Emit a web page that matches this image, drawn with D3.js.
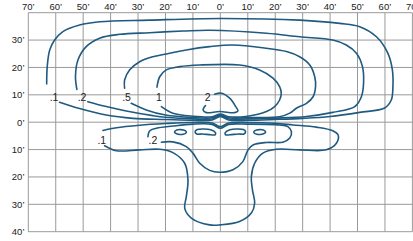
<!DOCTYPE html>
<html><head><meta charset="utf-8">
<script src="https://cdn.jsdelivr.net/npm/d3@7"></script>
<style>html,body{margin:0;padding:0;background:#fff;overflow:hidden}svg{display:block}</style>
</head><body>
<svg id="chart" width="413" height="241"></svg>
<script>
// ---- data (feet; x = lateral, y = forward(+)/back(-)) ----
const xTicks = [-70,-60,-50,-40,-30,-20,-10,0,10,20,30,40,50,60,70];
const yTicks = [30,20,10,0,-10,-20,-30,-40];
const xTickLabels = ["70’","60’","50’","40’","30’","20’","10’","0’","10’","20’","30’","40’","50’","60’","70’"];
const yTickLabels = ["30’","20’","10’","0’","10’","20’","30’","40’"];

const contourUpper01 = [[-63.3,14],[-63.1,20.3],[-62.2,26.4],[-60.4,30],[-57.4,33.1],[-51.3,35.5],[-44,36.7],[-25.8,37.3],[0,37.9],[29,37.3],[43.5,36.1],[50.8,34.9],[56.9,31.2],[61,25.3],[62.7,19.1],[62.9,13],[62.3,8.1],[59.9,5.2],[50.8,3.6],[40,2.1],[30,1.4],[20,1.0],[10,0.7],[3,0.8],[0,2.1],[-3,0.8],[-10,0.7],[-20,1.0],[-31.9,1.4],[-41.6,2.6],[-51.3,5.0],[-58.6,7.3]];
const contourUpper02 = [[-52.3,12.0],[-52.8,16.6],[-51.9,22.7],[-48.9,27.6],[-44,30.7],[-36.7,32.1],[-25.8,32.7],[-13.6,33.3],[-3.9,33.6],[16.8,32.5],[28.9,31.2],[41,30],[45.9,28.2],[49.6,25.2],[51.8,20.3],[52.2,14.2],[51.4,9.3],[49,5.7],[41,3.6],[31.4,2.1],[20,1.5],[10,1.2],[3,1.2],[0,2.4],[-3,1.2],[-10,1.2],[-20,1.8],[-24.6,2.4],[-34.3,4.1],[-41.6,5.7],[-48.3,7.5]];
const contourUpper05 = [[-34.9,12.4],[-34.9,15.4],[-33.1,19.1],[-29.4,22.1],[-24.6,23.9],[-18.5,25.2],[-12.4,26.4],[-3.9,27.6],[4.6,28.2],[16.8,27.0],[24.1,25.8],[28.9,23.9],[32.6,20.9],[34.4,16.6],[34.7,13.0],[33.8,9.3],[31.4,6.9],[27.7,5.1],[25.3,3.3],[21.6,2.0],[10,1.7],[3,1.6],[0,2.7],[-3,1.6],[-10,1.7],[-20,2.6],[-27,4.5],[-32.5,6.9]];
const contourUpper1 = [[-23.1,12.8],[-22.1,16.6],[-19.7,19.1],[-14.8,20.3],[-7.5,20.9],[7,20.9],[14.3,19.1],[19.2,16.1],[21.6,13],[22.2,10.6],[21.6,8.1],[19.8,5.7],[16.8,3.9],[10,2.2],[3,2.0],[0,3.0],[-3,2.0],[-10,2.2],[-17.3,3.3],[-21.5,5.7]];
const contourUpper2 = [[-2.1,10.2],[0.4,10.6],[3.4,8.8],[5.6,5.7],[6.4,4.1],[5.2,3.5],[-0.3,3.9],[-5.1,3.5],[-6.3,4.5],[-5.4,6.1]];
const contourLower01 = [[-42.8,-3.0],[-37.9,-2.0],[-29.4,-1.1],[-20,-0.5],[-10,-0.1],[-3,-0.3],[0,-1.6],[3,-0.3],[10,-0.1],[20,-0.4],[26.5,-1.0],[35,-1.8],[41,-3.1],[42.9,-4.6],[42.3,-7.7],[38.6,-10.1],[28.9,-10.1],[20.4,-9.9],[15.5,-11.3],[12.5,-15.0],[11.3,-19.9],[11.7,-24.7],[12.5,-29.6],[11.3,-33.2],[7,-36.3],[0,-37.5],[-3.9,-37.5],[-10.6,-35],[-13,-31.4],[-12.4,-27.2],[-11.8,-21.1],[-13,-15],[-17.3,-11.1],[-22.1,-9.9],[-29.4,-10.1],[-37.9,-10.4],[-42.2,-8.6]];
const contourLower02 = [[-26.4,-5.3],[-25.8,-3.2],[-23.3,-2.2],[-17.3,-1.4],[-10,-0.7],[-3,-0.8],[0,-2.2],[3,-0.8],[10,-0.7],[21.6,-1.0],[24.6,-1.6],[25.9,-3.4],[25.3,-5.8],[22.8,-7.3],[16.8,-7.4],[11.9,-8.3],[10.1,-10.1],[8.2,-14.4],[4.6,-17.4],[-0.3,-18.3],[-3.9,-17.6],[-7.5,-15.0],[-10,-11.3],[-12.4,-8.9],[-17.3,-7.2],[-21.5,-7.3]];
const islandLeftSmall = [[-16.7,-3.6],[-16,-2.9],[-14.5,-2.7],[-12.8,-3.1],[-12.4,-3.8],[-13.5,-4.4],[-15.3,-4.4]];
const islandRightSmall = [[16.5,-3.6],[15.8,-2.9],[14.3,-2.7],[12.6,-3.1],[12.2,-3.8],[13.3,-4.4],[15.1,-4.4]];
const islandLeftBig = [[-9.2,-3.5],[-8.4,-2.7],[-6,-2.5],[-3.5,-2.8],[-1.8,-3.8],[-1.9,-4.6],[-3.5,-4.6],[-6.5,-4.3],[-8.6,-4.3]];
const islandRightBig = [[9.2,-3.5],[8.4,-2.7],[6,-2.5],[3.5,-2.8],[1.8,-3.8],[1.9,-4.6],[3.5,-4.6],[6.5,-4.3],[8.6,-4.3]];

const contourLabels = [".1",".2",".5","1","2",".1",".2"];
const contourLabelX = [-60.6,-50.4,-34.2,-22.4,-4.6,-43.2,-24.6];
const contourLabelY = [7.9,7.9,7.9,7.9,7.9,-7.9,-7.9];

// ---- chart ----
const svg = d3.select("#chart");
const pLeft = 28.3, pRight = 412.4, pTop = 12.7, pBottom = 231.7;
const x = d3.scaleLinear().domain([-70,70]).range([pLeft,pRight]);
const y = d3.scaleLinear().domain([-40,40]).range([pBottom,pTop]);

const grid = svg.append("g");
grid.selectAll("line.v").data(xTicks).join("line")
  .attr("class","v")
  .attr("x1",d=>x(d)).attr("x2",d=>x(d)).attr("y1",pTop).attr("y2",pBottom)
  .attr("stroke","#9a9a9a").attr("stroke-width",1);
grid.selectAll("line.h").data([40].concat(yTicks)).join("line")
  .attr("class","h")
  .attr("x1",pLeft).attr("x2",pRight).attr("y1",d=>y(d)).attr("y2",d=>y(d))
  .attr("stroke","#9a9a9a").attr("stroke-width",1);

const font = "'Liberation Sans', Arial, Helvetica, sans-serif";
svg.append("g").selectAll("text").data(xTicks).join("text")
  .attr("x",d=>x(d)).attr("y",9.6)
  .attr("text-anchor","middle").attr("font-family",font).attr("font-size",9.5).attr("fill","#222")
  .text((d,i)=>xTickLabels[i]);
svg.append("g").selectAll("text").data(yTicks).join("text")
  .attr("x",24.5).attr("y",d=>y(d)+3.4)
  .attr("text-anchor","end").attr("font-family",font).attr("font-size",9.5).attr("fill","#222")
  .text((d,i)=>yTickLabels[i]);

const lineOpen = d3.line().x(d=>x(d[0])).y(d=>y(d[1])).curve(d3.curveCatmullRom.alpha(0.5));
const lineClosed = d3.line().x(d=>x(d[0])).y(d=>y(d[1])).curve(d3.curveCatmullRomClosed.alpha(0.5));
const color = "#1f5a80";
const openC = [contourUpper01,contourUpper02,contourUpper05,contourUpper1,contourUpper2,contourLower01,contourLower02];
const closedC = [islandLeftSmall,islandRightSmall,islandLeftBig,islandRightBig];
const cg = svg.append("g").attr("fill","none").attr("stroke",color).attr("stroke-width",1.6).attr("stroke-linejoin","round").attr("stroke-linecap","round");
cg.selectAll("path.o").data(openC).join("path").attr("class","o").attr("d",lineOpen);
cg.selectAll("path.c").data(closedC).join("path").attr("class","c").attr("d",lineClosed);

svg.append("g").selectAll("text").data(contourLabels).join("text")
  .attr("x",(d,i)=>x(contourLabelX[i])).attr("y",(d,i)=>y(contourLabelY[i]))
  .attr("text-anchor","middle").attr("font-family",font).attr("font-size",10.5).attr("fill","#222")
  .text(d=>d);
</script>
</body></html>
